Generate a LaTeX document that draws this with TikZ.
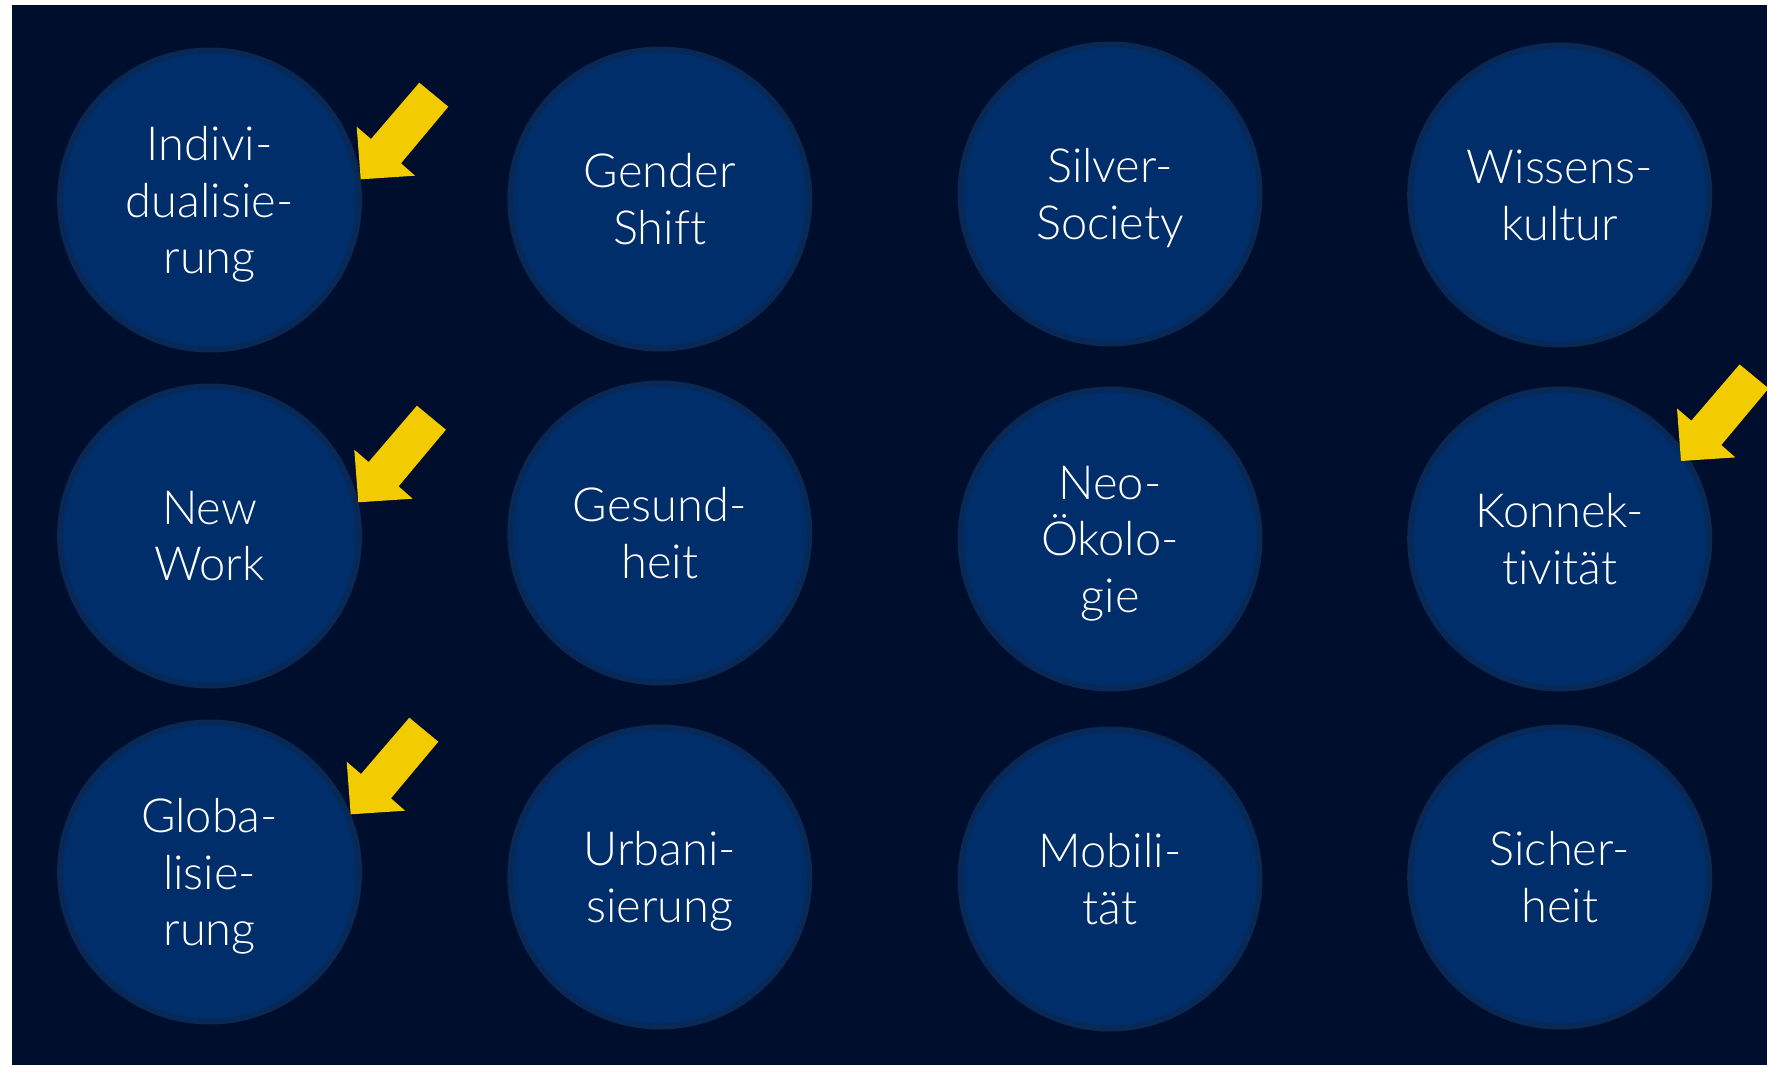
\documentclass[tikz,border=0pt]{standalone}
\usepackage{fontspec}
\setmainfont{Lato Light}[Ligatures=CommonOff]
\usepackage{tikz}

\definecolor{nachtblau}{RGB}{0,14,45}
\definecolor{kreisblau}{RGB}{0,46,107}
\definecolor{randblau}{RGB}{8,40,86}
\definecolor{pfeilgelb}{RGB}{242,204,0}

\tikzset{
  trend/.style={circle,fill=kreisblau,draw=randblau,line width=3pt,
    minimum size=149.5pt,inner sep=0pt,text=white,align=center,
    text depth=0pt,font=\fontsize{23.5}{28.3}\selectfont},
  pfeil/.style={fill=pfeilgelb}
}

\begin{document}
\begin{tikzpicture}[x=0.5pt,y=-0.5pt]
\useasboundingbox (0,0) rectangle (1767,1065);
\fill[white] (0,0) rectangle (1767,1065);
\fill[nachtblau] (12,5) rectangle (1767,1065);
% erste Reihe
\node[trend] (indiv) at (209.6,200) {Indivi-\\dualisie-\\rung};
\node[trend] (gender) at (659.8,199) {Gender\\Shift};
\node[trend] (silver) at (1110,194) {Silver-\\Society};
\node[trend] (wissen) at (1559.7,195) {Wissens-\\kultur};
% zweite Reihe
\node[trend] (newwork) at (209.6,536) {New\\Work};
\node[trend] (gesund) at (659.8,533) {Gesund-\\heit};
\node[trend] (neooeko) at (1110,539) {Neo-\\Ökolo-\\gie};
\node[trend] (konnekt) at (1559.7,539) {Konnek-\\tivität};
% dritte Reihe
\node[trend] (global) at (209.6,872) {Globa-\\lisie-\\rung};
\node[trend] (urban) at (659.8,877) {Urbani-\\sierung};
\node[trend] (mobil) at (1110,879) {Mobili-\\tät};
\node[trend] (sicher) at (1559.7,877) {Sicher-\\heit};
% Pfeile
\foreach \tip in {(360.7,179.3),(358.3,502.3),(350.7,814.3),(1681,461)}
  \fill[pfeil] \tip -- ++(-4,-52.6) -- ++(14.3,12.3) -- ++(48.3,-56.3)
    -- ++(29,24) -- ++(-47.3,56.6) -- ++(14,12.4) -- cycle;
\end{tikzpicture}
\end{document}
